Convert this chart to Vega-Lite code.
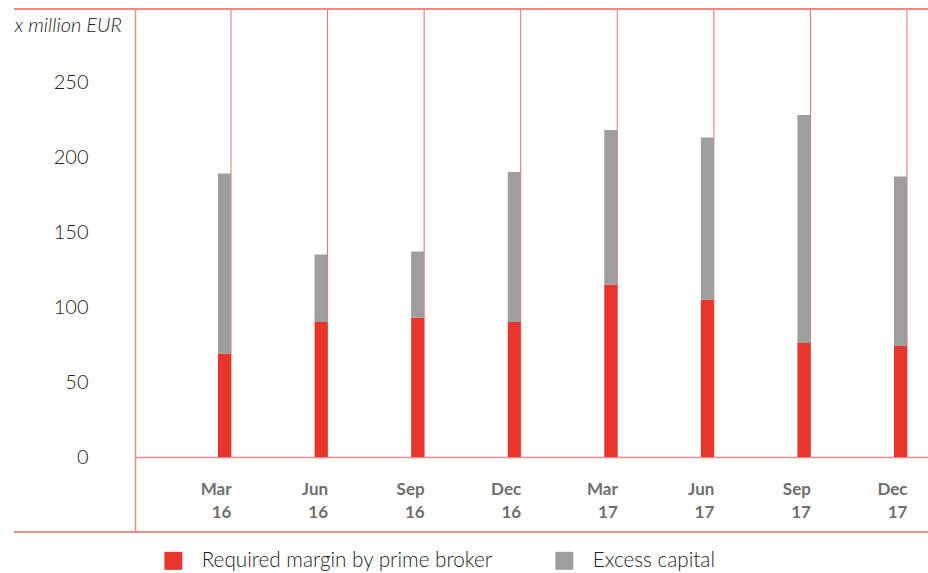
{
  "$schema": "https://vega.github.io/schema/vega-lite/v6.json",
  "width": 914,
  "height": 523,
  "autosize": "none",
  "padding": {"left": 14, "top": 9, "right": 0, "bottom": 41},
  "config": {
    "view": {"stroke": null},
    "font": "Lato",
    "axisY": {
      "offset": -121,
      "domainColor": "#f08a84",
      "domainWidth": 1.5,
      "ticks": false,
      "grid": false,
      "labelFont": "Lato",
      "labelFontSize": 20,
      "labelFontWeight": 300,
      "labelColor": "#222222",
      "labelPadding": 47,
      "titleAngle": 0,
      "titleAlign": "left",
      "titleBaseline": "middle",
      "titleX": -121,
      "titleY": 16,
      "titleFont": "Lato",
      "titleFontSize": 20,
      "titleFontStyle": "italic",
      "titleFontWeight": 300,
      "titleColor": "#222222"
    },
    "axisX": {
      "offset": -75,
      "domainColor": "#f08a84",
      "domainWidth": 1.5,
      "ticks": false,
      "grid": false,
      "labelFont": "Lato",
      "labelFontSize": 17,
      "labelFontWeight": "bold",
      "labelColor": "#6e6e6e",
      "labelAlign": "right",
      "labelOffset": 7,
      "labelBaseline": "alphabetic",
      "labelPadding": 37,
      "labelLineHeight": 23,
      "labelAngle": 0,
      "labelOverlap": false
    }
  },
  "data": {
    "values": [
      {"quarter": "Mar 16", "series": "Required margin by prime broker", "value": 69},
      {"quarter": "Mar 16", "series": "Excess capital", "value": 120},
      {"quarter": "Jun 16", "series": "Required margin by prime broker", "value": 90},
      {"quarter": "Jun 16", "series": "Excess capital", "value": 45},
      {"quarter": "Sep 16", "series": "Required margin by prime broker", "value": 93},
      {"quarter": "Sep 16", "series": "Excess capital", "value": 44},
      {"quarter": "Dec 16", "series": "Required margin by prime broker", "value": 90},
      {"quarter": "Dec 16", "series": "Excess capital", "value": 100},
      {"quarter": "Mar 17", "series": "Required margin by prime broker", "value": 115},
      {"quarter": "Mar 17", "series": "Excess capital", "value": 103},
      {"quarter": "Jun 17", "series": "Required margin by prime broker", "value": 105},
      {"quarter": "Jun 17", "series": "Excess capital", "value": 108},
      {"quarter": "Sep 17", "series": "Required margin by prime broker", "value": 76},
      {"quarter": "Sep 17", "series": "Excess capital", "value": 152},
      {"quarter": "Dec 17", "series": "Required margin by prime broker", "value": 74},
      {"quarter": "Dec 17", "series": "Excess capital", "value": 113}
    ]
  },
  "layer": [
    {
      "transform": [{"filter": "datum.series === 'Excess capital'"}],
      "mark": {"type": "rule", "stroke": "#ee6b63", "strokeWidth": 1},
      "encoding": {
        "x": {
          "field": "quarter", "type": "nominal", "sort": null, "bandPosition": 1,
          "scale": {"range": [121, 914], "paddingInner": 0.8654, "paddingOuter": 0.5385, "align": 0.798},
          "axis": {"title": null, "labelExpr": "split(datum.label, ' ')"}
        },
        "y": {
          "datum": 298.67, "type": "quantitative",
          "scale": {"domain": [-50, 298.67], "nice": false, "zero": false},
          "axis": {"title": "x million EUR", "values": [0, 50, 100, 150, 200, 250]}
        },
        "y2": {"datum": 0}
      }
    },
    {
      "mark": {"type": "bar"},
      "encoding": {
        "x": {
          "field": "quarter", "type": "nominal", "sort": null,
          "scale": {"range": [121, 914], "paddingInner": 0.8654, "paddingOuter": 0.5385, "align": 0.798},
          "axis": {"title": null, "labelExpr": "split(datum.label, ' ')"}
        },
        "y": {
          "field": "value", "type": "quantitative", "stack": "zero",
          "scale": {"domain": [-50, 298.67], "nice": false, "zero": false},
          "axis": {"title": "x million EUR", "values": [0, 50, 100, 150, 200, 250]}
        },
        "order": {"field": "series", "sort": "descending"},
        "color": {
          "field": "series", "type": "nominal",
          "scale": {
            "domain": ["Required margin by prime broker", "Excess capital"],
            "range": ["#e8352b", "#9e9e9e"]
          },
          "legend": {
            "orient": "none",
            "legendX": 149,
            "legendY": 541,
            "direction": "horizontal",
            "title": null,
            "symbolType": "square",
            "symbolSize": 324,
            "symbolStrokeWidth": 0,
            "symbolOpacity": 1,
            "labelFont": "Lato",
            "labelFontSize": 20.7,
            "labelFontWeight": 300,
            "labelColor": "#222222",
            "labelOffset": 18,
            "labelLimit": 400,
            "columnPadding": 61
          }
        }
      }
    },
    {
      "mark": {"type": "rule", "stroke": "#f08a84", "strokeWidth": 1.5},
      "encoding": {
        "y": {
          "datum": 298.67, "type": "quantitative",
          "scale": {"domain": [-50, 298.67], "nice": false, "zero": false},
          "axis": {"title": "x million EUR", "values": [0, 50, 100, 150, 200, 250]}
        }
      }
    },
    {
      "mark": {"type": "rule", "stroke": "#f08a84", "strokeWidth": 1.5},
      "encoding": {
        "y": {
          "datum": -50, "type": "quantitative",
          "scale": {"domain": [-50, 298.67], "nice": false, "zero": false},
          "axis": {"title": "x million EUR", "values": [0, 50, 100, 150, 200, 250]}
        }
      }
    }
  ]
}
